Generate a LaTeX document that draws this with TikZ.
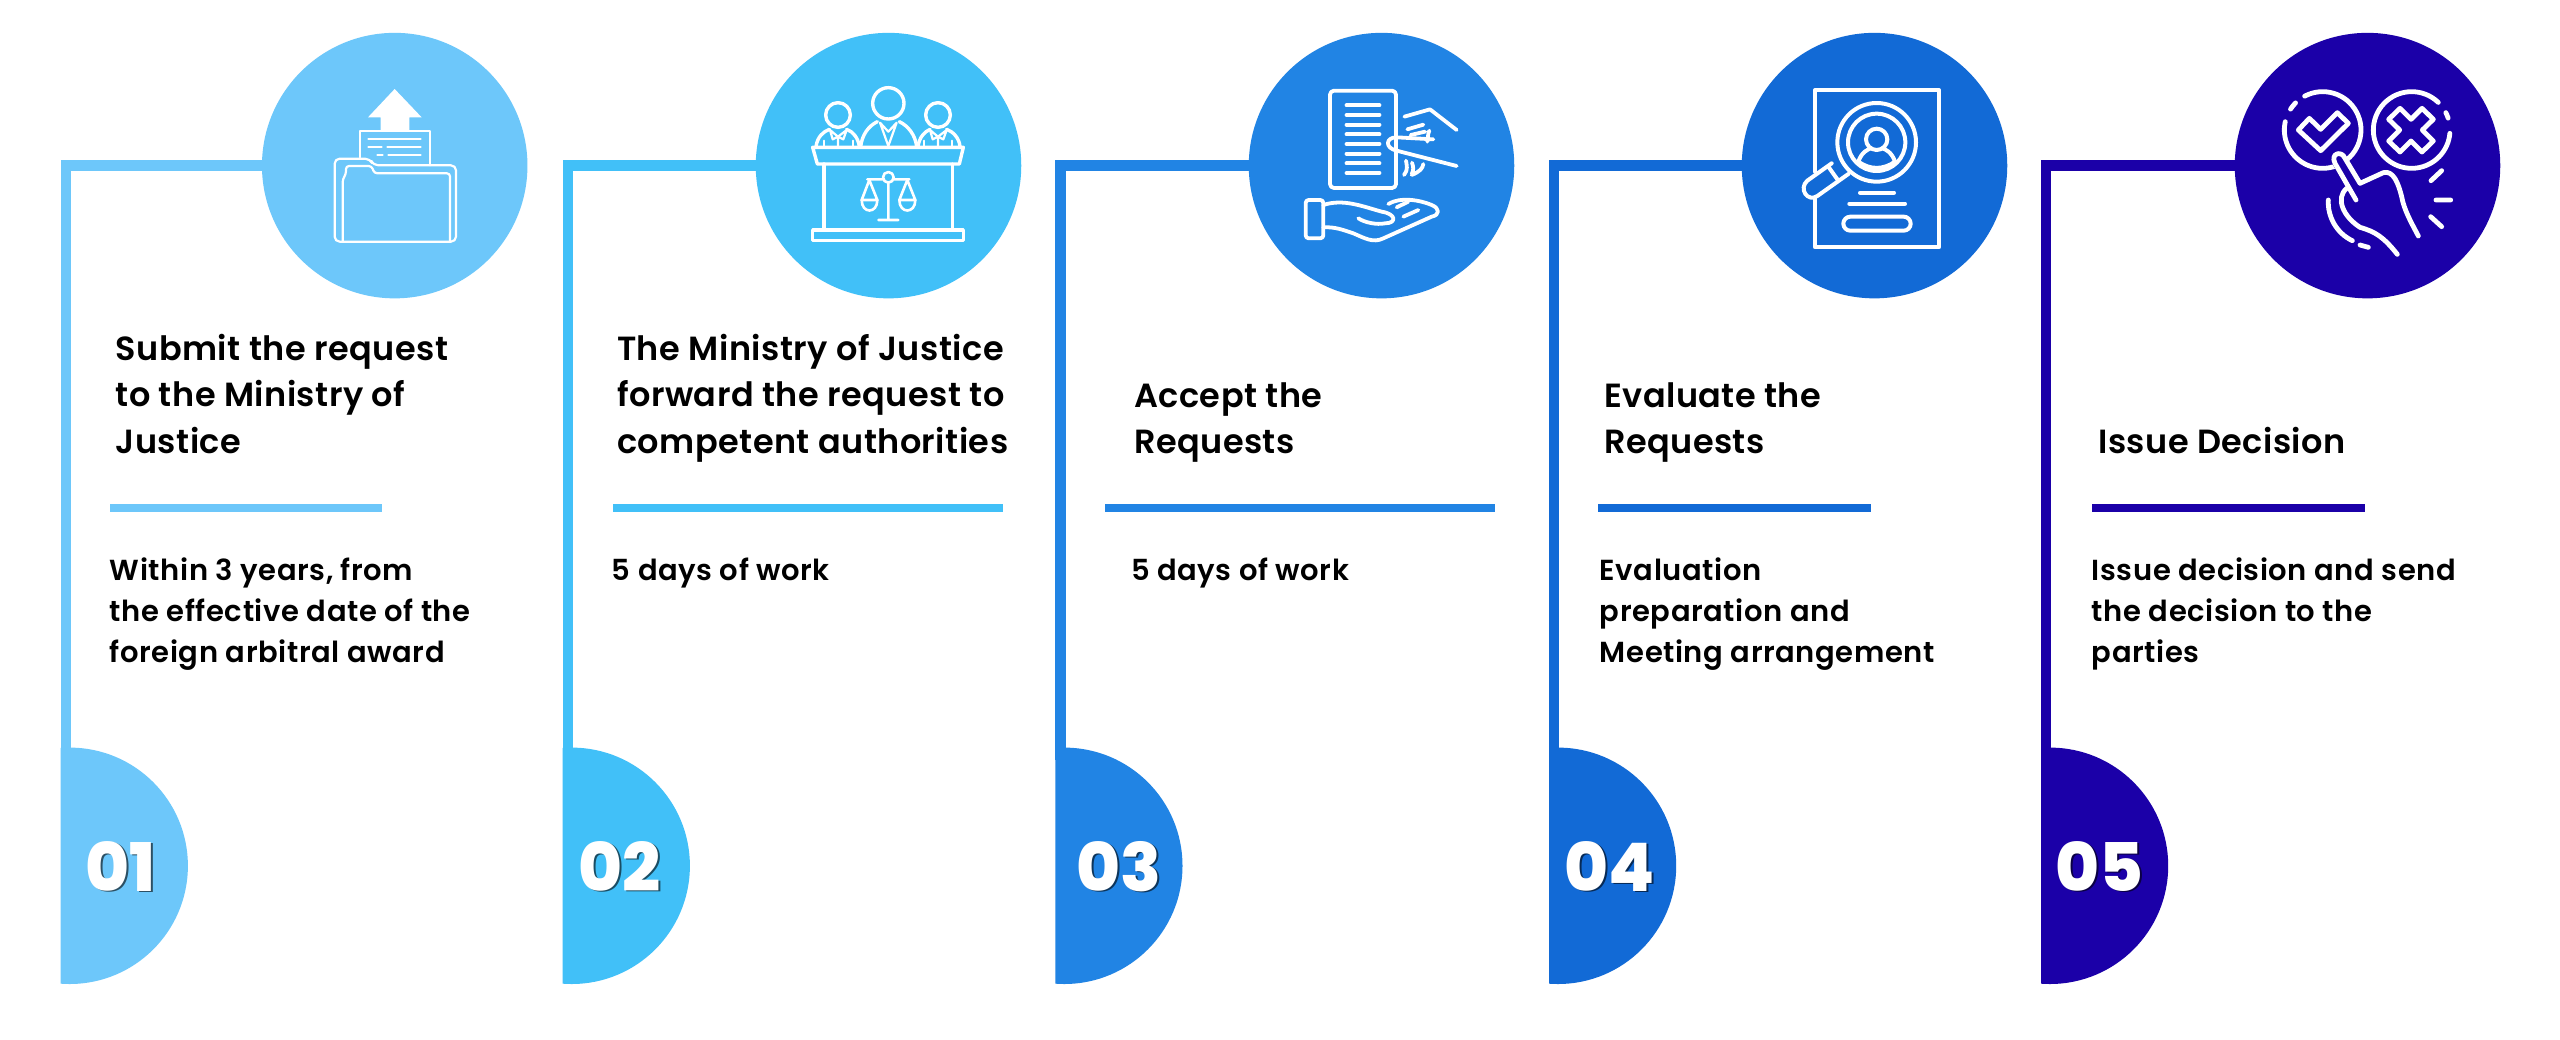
\documentclass[tikz,border=0pt]{standalone}
\usepackage{fontspec}
\setmainfont{Poppins}
\newfontfamily\headfont[LetterSpace=1.4]{Poppins SemiBold}
\newfontfamily\bodyfont[LetterSpace=2.0]{Poppins SemiBold}
\newfontfamily\numfont{Poppins ExtraBold}
\definecolor{cA}{HTML}{6DC7FA}
\definecolor{cB}{HTML}{41C0F8}
\definecolor{cC}{HTML}{2184E4}
\definecolor{cD}{HTML}{126AD6}
\definecolor{cE}{HTML}{1B00A8}
\newcommand\lh[1]{\hbox{#1}}
\tikzset{
  head/.style={anchor=base west,inner sep=0pt,text=black,font=\headfont\fontsize{33.5}{46.5}\selectfont},
  bodytxt/.style={anchor=base west,inner sep=0pt,text=black,font=\bodyfont\fontsize{29}{41.3}\selectfont},
  bigcirc/.style={circle,fill=#1,draw=none,minimum size=265.5pt,inner sep=0pt},
  rulebar/.style={fill=#1,draw=none},
  numtxt/.style={anchor=base west,inner sep=0pt,text=white,font=\numfont\fontsize{67}{67}\selectfont},
  numshadow/.style={anchor=base west,inner sep=0pt,text=#1,font=\numfont\fontsize{67}{67}\selectfont},
  ic/.style={draw=white,line width=#1,line cap=round,line join=round},
  zoomA/.style={x=.33333pt,y=-.33333pt},
}
\begin{document}
\begin{tikzpicture}[x=1pt,y=-1pt]
\useasboundingbox (0,0) rectangle (2560,1039);
\fill[white] (0,0) rectangle (2560,1039);
% column 1..5 rails, half discs, rules, numbers
\foreach \c/\xl/\cx/\rl/\rr/\sh/\n/\nx in {
 cA/60.7/394.7/110/382/black!60!cA/01/85.5,
 cB/562.7/888.5/612.7/1002.7/black!60!cB/02/578,
 cC/1055.3/1381.5/1105/1495/black!60!cC/03/1076.5,
 cD/1549/1874.5/1598/1870.7/black!60!cD/04/1564.5,
 cE/2041/2367.5/2092/2365/black!60!cE/05/2055.5}{
  \node[bigcirc=\c] (disc\n) at (\cx,165.6) {};
  \fill[\c] (\xl,160) rectangle (\cx-100,171);
  \fill[\c] (\xl,160) rectangle (\xl+10.4,760);
  \begin{scope}
    \clip (\xl,700) rectangle (\xl+200,1000);
    \fill[\c] (\xl+9,865.8) circle (118.2);
  \end{scope}
  \fill[\c] (\rl,504) rectangle (\rr,512);
  \node[numshadow=\sh] (shade\n) at (\nx+1.8,892.8) {\n};
  \node[numtxt] (num\n) at (\nx,891) {\n};
}
% text
\node[head] (h1) at (115.5,360) {\vtop{\lh{Submit the request}\lh{to the Ministry of}\lh{Justice}}};
\node[bodytxt] (b1) at (109.7,580) {\vtop{\lh{Within 3 years, from}\lh{the effective date of the}\lh{foreign arbitral award}}};
\node[head] (h2) at (617,360) {\vtop{\lh{The Ministry of Justice}\lh{forward the request to}\lh{competent authorities}}};
\node[bodytxt] (b2) at (611.7,580) {5 days of work};
\node[head] (h3) at (1134,407) {\vtop{\lh{Accept the}\lh{Requests}}};
\node[bodytxt] (b3) at (1131,580) {5 days of work};
\node[head] (h4) at (1604,407) {\vtop{\lh{Evaluate the}\lh{Requests}}};
\node[bodytxt] (b4) at (1599.7,580) {\vtop{\lh{Evaluation}\lh{preparation and}\lh{Meeting arrangement}}};
\node[head] (h5) at (2098,453) {Issue Decision};
\node[bodytxt] (b5) at (2091.7,580) {\vtop{\lh{Issue decision and send}\lh{the decision to the}\lh{parties}}};
% icon 1: folder
\begin{scope}[shift={(40,20)},zoomA,ic=2.2pt]
  \fill[white,draw=none] (1064,207)--(1145,292)--(1108,292)--(1108,330)--(1022,330)--(1022,292)--(984,292)--cycle;
  \draw (960,412)--(960,332)--(1170,332)--(1170,436);
  \draw (985,358)--(1142,358) (985,382)--(1025,382) (1042,382)--(1142,382) (1012,405)--(1028,405) (1045,405)--(1142,405);
  \draw[rounded corners=5pt] (1000,436)--(990,416)--(884,416)--(884,665)--(1248,665)--(1248,436)--cycle;
  \draw[rounded corners=3pt] (908,664)--(908,478)--(918,462)--(918,438)--(995,438)--(1003,460)--(1230,460)--(1230,664);
\end{scope}
% icon 2: court
\begin{scope}[shift={(740,20)},zoomA,ic=3.4pt]
  \draw (445,250) circle (47) (294,285) circle (37) (594,285) circle (37);
  \draw (228,380) .. controls (232,350) and (250,335) .. (268,328);
  \draw (320,328) .. controls (340,335) and (355,355) .. (358,380);
  \draw (362,380) .. controls (366,345) and (385,318) .. (412,305);
  \draw (478,305) .. controls (505,318) and (526,345) .. (530,380);
  \draw (534,380) .. controls (538,350) and (555,335) .. (570,328);
  \draw (620,328) .. controls (640,335) and (658,355) .. (660,380);
  \draw[line width=2.2pt] (420,308)--(445,378)--(470,308) (420,308)--(445,335)--(470,308);
  \draw[line width=2.2pt] (270,330)--(294,350)--(320,330) (294,350)--(294,380) (270,330)--(278,358)--(294,350)--(310,358)--(320,330);
  \draw[line width=2.2pt] (570,330)--(594,350)--(620,330) (594,350)--(594,380) (570,330)--(578,358)--(594,350)--(610,358)--(620,330);
  \draw[line width=2.2pt] (253,362)--(253,380) (338,362)--(338,380) (552,362)--(552,380) (636,362)--(636,380);
  \draw (218,382)--(670,382)--(658,432)--(232,432)--cycle;
  \draw (252,432)--(252,628) (638,432)--(638,628);
  \draw (218,630) rectangle (670,662);
  \draw[line width=2.6pt] (445,488)--(445,600) (415,600)--(475,600) (445,472) circle (16) (382,478)--(429,478) (461,478)--(508,478);
  \draw[line width=2.6pt] (388,480)--(365,540)--(412,540)--cycle (502,480)--(478,540)--(526,540)--cycle;
  \draw[line width=2.6pt] (365,540) .. controls (365,582) and (412,582) .. (412,540);
  \draw[line width=2.6pt] (478,540) .. controls (478,582) and (526,582) .. (526,540);
\end{scope}
% icon 3: hands and document
\begin{scope}[shift={(1240,20)},zoomA,ic=3.8pt]
  \draw[rounded corners=4pt] (270,212) rectangle (468,504);
  \foreach \yy in {256,285,314,343,372,401,430,459}{\draw[line width=4.2pt] (320,\yy)--(418,\yy);}
  \draw (493,290)--(570,268)--(650,330);
  \draw (650,438)--(470,392) .. controls (435,385) and (435,352) .. (470,352)--(580,358);
  \draw (502,328)--(550,314) (512,345)--(555,335) (568,332) .. controls (562,345) and (565,355) .. (562,365);
  \draw (492,465) .. controls (505,450) and (500,435) .. (498,422) (515,462) .. controls (522,450) and (520,440) .. (516,428) (515,465) .. controls (540,455) and (548,445) .. (550,432);
  \draw[rounded corners=3pt] (197,540) rectangle (250,655);
  \draw (250,555) .. controls (310,535) and (370,560) .. (425,575) .. controls (470,582) and (470,610) .. (435,610) .. controls (410,615) and (375,608) .. (355,595);
  \draw (445,552) .. controls (480,530) and (540,540) .. (575,555) .. controls (600,565) and (600,585) .. (575,590) -- (430,655) .. controls (400,670) and (375,655) .. (340,640) .. controls (310,630) and (285,620) .. (250,622);
  \draw (470,562)--(505,545) (490,590)--(535,570);
\end{scope}
% icon 4: magnifier on report
\begin{scope}[shift={(1720,20)},zoomA,ic=4pt]
  \draw[line join=round] (285,535)--(285,682)--(657,682)--(657,210)--(285,210)--(285,455);
  \filldraw[fill=cD] (470,367) circle (118);
  \draw (470,367) circle (86);
  \draw (470,358) circle (32);
  \draw (415,425) .. controls (425,395) and (445,388) .. (452,385);
  \draw (525,425) .. controls (515,395) and (495,388) .. (488,385);
  \draw (415,425) .. controls (450,450) and (490,450) .. (525,425);
  \draw[fill=cD] (335,430)--(262,482) .. controls (235,505) and (262,548) .. (292,528)--(385,462);
  \draw (325,440)--(352,478);
  \draw (420,518)--(522,518) (388,551)--(555,551);
  \draw[rounded corners=7pt] (370,590) rectangle (572,632);
\end{scope}
% icon 5: choice
\begin{scope}[shift={(2040,20)},zoomA,ic=4.8pt]
  \tikzset{line cap=butt,line join=miter}
  \draw (848,330) ++(-118:115) arc[start angle=-118,end angle=192.5,radius=115];
  \draw (848,330) ++(-147:115) arc[start angle=-147,end angle=-135,radius=115];
  \draw (1115,330) ++(-46:115) arc[start angle=-46,end angle=-355,radius=115];
  \draw (1115,330) ++(-27:115) arc[start angle=-27,end angle=-18,radius=115];
  \draw (775,330)--(808,295)--(842,328)--(892,278)--(925,310)--(842,392)--cycle;
  \draw (1113,298)--(1146,265)--(1180,298)--(1147,330)--(1180,363)--(1146,396)--(1113,363)--(1080,396)--(1046,363)--(1079,330)--(1046,298)--(1080,265)--cycle;
  \fill[cE,draw=none] (870,420)--(895,385)--(925,420)--(960,500)--(945,545)--cycle;
  \draw (948,540)--(885,430) .. controls (870,400) and (905,390) .. (915,415)--(960,490)--(1030,458) .. controls (1060,450) and (1075,490) .. (1085,530) .. controls (1092,570) and (1115,610) .. (1135,648);
  \draw (920,505) .. controls (885,535) and (910,590) .. (960,622) .. controls (1005,635) and (1030,650) .. (1072,703);
  \draw (865,540) .. controls (862,590) and (890,640) .. (937,662);
  \draw (960,675)--(985,682);
  \draw (1173,482)--(1205,452) (1188,540)--(1232,540) (1172,590)--(1205,620);
\end{scope}
\end{tikzpicture}
\end{document}
